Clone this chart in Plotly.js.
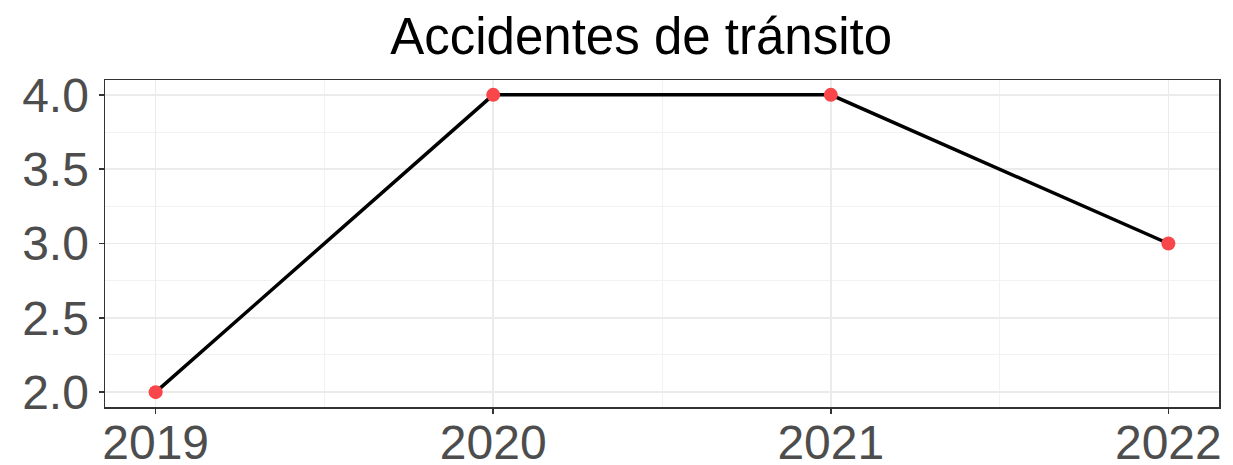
<!DOCTYPE html>
<html>
<head>
<meta charset="utf-8">
<script src="https://cdn.plot.ly/plotly-3.0.1.min.js"></script>
<style>html,body{margin:0;padding:0;background:#fff;}#chart{width:1233px;height:465px;}</style>
</head>
<body>
<div id="chart"></div>
<script>
const years = [2019, 2020, 2021, 2022];
const accidents = [2, 4, 4, 3];
const xTickLabels = ["2019", "2020", "2021", "2022"];
const yTickValues = [2.0, 2.5, 3.0, 3.5, 4.0];
const yTickLabels = ["2.0", "2.5", "3.0", "3.5", "4.0"];

const traces = [
  {x: years, y: accidents, mode: 'lines', line: {color: '#000000', width: 3.5}, hoverinfo: 'skip'},
  {x: years, y: accidents, mode: 'markers', marker: {color: '#F8464A', size: 14}}
];

const layout = {
  width: 1233, height: 465,
  margin: {l: 105, r: 14, t: 80, b: 58},
  paper_bgcolor: '#ffffff', plot_bgcolor: '#ffffff',
  showlegend: false,
  font: {family: 'Liberation Sans, Arial, sans-serif'},
  title: {text: 'Accidentes de tránsito', font: {size: 51, color: '#000000'}, x: 0.52, xanchor: 'center', y: 0.922, yanchor: 'middle'},
  xaxis: {
    range: [2018.85, 2022.15], tickvals: years, ticktext: xTickLabels,
    showgrid: true, gridcolor: '#EBEBEB', gridwidth: 1.5,
    minor: {dtick: 0.5, tick0: 2019, showgrid: true, gridcolor: '#F2F2F2', gridwidth: 1},
    ticks: 'outside', ticklen: 5, tickcolor: '#333333', tickwidth: 1.5,
    tickfont: {size: 48, color: '#4D4D4D'}, ticklabelstandoff: -12,
    showline: true, linecolor: '#333333', linewidth: 1.5, mirror: true, zeroline: false
  },
  yaxis: {
    range: [1.9, 4.1], tickvals: yTickValues, ticktext: yTickLabels,
    showgrid: true, gridcolor: '#EBEBEB', gridwidth: 1.5,
    minor: {dtick: 0.25, tick0: 2, showgrid: true, gridcolor: '#F2F2F2', gridwidth: 1},
    ticks: 'outside', ticklen: 5, tickcolor: '#333333', tickwidth: 1.5,
    tickfont: {size: 48, color: '#4D4D4D'},
    showline: true, linecolor: '#333333', linewidth: 1.5, mirror: true, zeroline: false
  }
};

Plotly.newPlot('chart', traces, layout, {staticPlot: true, displayModeBar: false});
</script>
</body>
</html>
